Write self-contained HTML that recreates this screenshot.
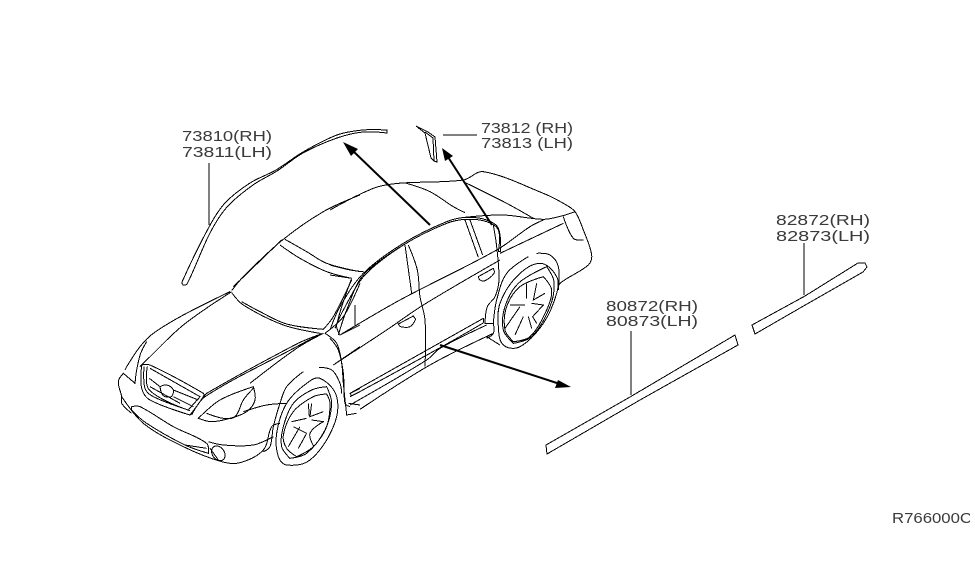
<!DOCTYPE html>
<html><head><meta charset="utf-8"><style>
html,body{margin:0;padding:0;background:#fff}
svg{display:block}
text{font-family:"Liberation Sans",sans-serif;font-size:14.5px;fill:#3a3a3a;stroke:none}
</style></head><body>
<svg width="975" height="566" viewBox="0 0 975 566" xmlns="http://www.w3.org/2000/svg">
<defs><clipPath id="c"><rect x="892" y="513" width="78" height="20"/></clipPath></defs>
<rect width="975" height="566" fill="#fff"/>
<g class="s" fill="none" stroke="#000" stroke-width="1" shape-rendering="crispEdges">
<path d="M182 282L209 227L225 203L250 183L276 170L303 152L337 135L363 130L387 130L387 133L363 132L337 138L303 153L277 171L253 185L227 207L210 233L187 284L183 285Z"/>
</g>
<g fill="none" stroke="#000" stroke-width="1" shape-rendering="crispEdges">
<path d="M416 126L428 132L435 137L437 162L434 161L431 158L425 133Z"/>
<path d="M425 132L433 138L434 161"/>
<path d="M209 163V225M443 135H477M631 331V395M804 243V295"/>
<path d="M546 445L630 397L735 335L738 345L640 400L547 454Z"/>
<path d="M752 325L805 296L858 263L865 263L867 267L863 272L807 304L755 334Z"/>
</g>
<!-- front of car -->
<g class="s" transform="translate(110,170) scale(.33333)" fill="none" stroke="#000" stroke-width="3" shape-rendering="crispEdges">
<path d="M365 362L400 320L515 212L640 125L750 75"/>
<path d="M370 350L515 210"/>
<path d="M525 208L590 245L650 280L750 305"/>
<path d="M510 225L570 265L650 305L725 325"/>
<path d="M365 368L400 405L520 465L630 490"/>
<path d="M395 395L450 425L530 462L640 478"/>
<path d="M640 478L670 440L725 330"/>
<path d="M645 490L700 440L750 340"/>
<path d="M365 365L220 465L110 570L90 590"/>
<path d="M360 365L220 435L130 490L90 530L50 590L45 600"/>
<path d="M110 515L92 550L80 600L75 640L40 610L25 635L35 680L35 700L65 730"/>
<path d="M35 680L100 760L220 830L335 875L390 878L460 840L485 770L510 760"/>
<path d="M65 710L90 710L190 770L290 820L295 850L225 825L110 760L65 720Z"/>
<path d="M225 825L290 835"/>
<path d="M95 585L95 655L120 690L240 735L280 680L280 670L120 585Z"/>
<path d="M102 590L105 655L130 680L235 720L270 680L120 595"/>
<path d="M112 590L118 660L240 722"/>
<path d="M118 625L150 650M120 650L165 675L210 700M190 660L265 690M190 680L250 710"/>
<path d="M150 650L170 645L190 660L185 680L165 680L155 670Z"/>
<path d="M635 490L560 530L285 680L245 735"/>
<path d="M625 495L560 522L290 670L280 685"/>
<path d="M640 490L560 535L420 640"/>
<path d="M645 490L680 520L695 580L700 640L710 735L740 730"/>
<path d="M670 585L750 530"/>
<path d="M265 745L330 690L430 650L435 690L410 725L360 745L305 755Z"/>
<path d="M290 730L340 745L375 740L400 690L430 655"/>
<path d="M400 725L470 705L530 700"/>
<path d="M580 605L530 650L510 700L490 770L480 830L460 845"/>
<path d="M627 592L665 600L690 640L695 670"/>
<path d="M490 800L430 825L340 825L295 815"/>
<path d="M630 625L680 680L670 770L600 870L530 885L505 860L500 790L530 700L590 640Z"/>
<path d="M650 650L665 700L645 780L590 850L540 865L515 830L520 770L550 700L605 660Z"/>
<path d="M650 672L660 700L650 770L610 830L560 860L530 835L520 795L550 725L610 680Z"/>
<path d="M595 700L598 740M605 700L600 740L640 725M605 750L640 755L600 790L612 830M590 790L565 835M570 770L535 830M545 755L590 745M550 770L590 790"/>
<ellipse cx="325" cy="850" rx="18" ry="24" transform="rotate(-35 325 850)"/>
<path d="M300 835L325 870"/>
<path d="M725 325L680 465L690 495L750 465M735 410L735 465"/>
<path d="M720 670L750 655M720 680L750 665M715 700L750 705"/>
</g>
<!-- rear of car -->
<g class="s" transform="translate(330,160) scale(.33333)" fill="none" stroke="#000" stroke-width="3" shape-rendering="crispEdges">
<path d="M0 150L130 85L205 70L400 60L460 35L640 100L700 130L735 155L760 210L785 285L775 315L690 370L685 390"/>
<path d="M230 70L300 95L370 140L405 158"/>
<path d="M400 65L530 130L610 175"/>
<path d="M405 172L520 165L640 178L695 168L735 155"/>
<path d="M30 525L210 420L500 270L600 200L640 180"/>
<path d="M510 280L700 190"/>
<path d="M700 170L730 235L760 240"/>
<path d="M0 510L30 440L100 340L220 250L350 185L410 172L470 180L505 205L512 275L505 275L505 210L470 185L410 178L350 190L222 254L105 345L40 450L15 505"/>
<path d="M25 525L50 450L100 345L220 255"/>
<path d="M0 315L60 330L100 335M0 345L65 355"/>
<path d="M225 255L245 400"/>
<path d="M235 255L262 330L270 410L285 480L285 620"/>
<path d="M405 180L445 292M420 180L458 285"/>
<path d="M75 435L75 500"/>
<path d="M490 195L500 260L507 360L495 410L472 440L465 490L490 490L490 520L470 535"/>
<path d="M10 615L170 510L280 435L510 300"/>
<path d="M205 492L250 468L257 478L240 500L212 500Z"/>
<path d="M445 350L490 325L492 340L465 362L450 360Z"/>
<path d="M60 700L460 475L458 490L65 708Z"/>
<path d="M60 735L290 600L330 565L470 495"/>
<path d="M90 748L300 615L490 520"/>
<path d="M0 535L25 570L40 640L45 730L60 740"/>
<path d="M630 310L680 350L680 400L640 490L570 560L520 555L505 500L510 430L560 350Z"/>
<path d="M620 280L660 285L685 320L685 390"/>
<path d="M595 290L530 340L500 420L490 490"/>
<path d="M510 555L470 530"/>
<path d="M650 320L672 365L660 440L605 530L550 550L520 510L525 440L565 370Z"/>
<path d="M640 350L665 390L650 450L600 530L550 545L525 510L530 440L570 380Z"/>
<path d="M590 370L590 415M620 370L610 420L645 400M605 430L640 435L608 470L620 490M595 470L605 505M580 470L555 525M570 440L525 505M540 435L585 435"/>
</g>
<!-- arrows -->
<g stroke="#000" stroke-width="2" fill="#000">
<line x1="430" y1="225" x2="352" y2="150"/>
<polygon points="343,142 358,149 351,156" stroke="none"/>
<line x1="492" y1="225" x2="448" y2="157"/>
<polygon points="442,148 453,156 445,161" stroke="none"/>
<line x1="440" y1="345" x2="560" y2="384"/>
<polygon points="571,387 555,388 558,380" stroke="none"/>
</g>
<g>
<text x="182" y="141" textLength="90" lengthAdjust="spacingAndGlyphs">73810(RH)</text>
<text x="182" y="157" textLength="90" lengthAdjust="spacingAndGlyphs">73811(LH)</text>
<text x="481" y="133" textLength="92" lengthAdjust="spacingAndGlyphs">73812 (RH)</text>
<text x="481" y="148" textLength="92" lengthAdjust="spacingAndGlyphs">73813 (LH)</text>
<text x="776" y="225" textLength="94" lengthAdjust="spacingAndGlyphs">82872(RH)</text>
<text x="776" y="241" textLength="94" lengthAdjust="spacingAndGlyphs">82873(LH)</text>
<text x="606" y="311" textLength="92" lengthAdjust="spacingAndGlyphs">80872(RH)</text>
<text x="606" y="326" textLength="92" lengthAdjust="spacingAndGlyphs">80873(LH)</text>
<text x="892" y="523" textLength="80" lengthAdjust="spacingAndGlyphs" clip-path="url(#c)">R766000C</text>
</g>
</svg>
<script>
document.querySelectorAll('g.s path').forEach(function(el){
  var out='';
  el.getAttribute('d').split('M').forEach(function(sub){
    if(!sub.trim())return;
    var closed=/Z/.test(sub),n=sub.match(/-?[\d.]+/g).map(Number),p=[];
    for(var i=0;i<n.length;i+=2)p.push([n[i],n[i+1]]);
    var N=p.length;
    if(N<3){out+='M'+sub;return;}
    function g(i){return closed?p[(i+N)%N]:p[Math.max(0,Math.min(N-1,i))];}
    function dir(i){
      var a=g(i-1),b=g(i),c=g(i+1);
      var u=[b[0]-a[0],b[1]-a[1]],v=[c[0]-b[0],c[1]-b[1]];
      var lu=Math.hypot(u[0],u[1]),lv=Math.hypot(v[0],v[1]);
      if(!lu||!lv)return null;
      if((u[0]*v[0]+u[1]*v[1])/(lu*lv)<0.35)return null;
      var d=[c[0]-a[0],c[1]-a[1]],l=Math.hypot(d[0],d[1])||1;
      return [d[0]/l,d[1]/l];
    }
    var s='M'+p[0][0]+' '+p[0][1],m=closed?N:N-1;
    for(var j=0;j<m;j++){
      var a=g(j),b=g(j+1),L=Math.hypot(b[0]-a[0],b[1]-a[1])/3;
      var d1=dir(j),d2=dir(j+1);
      var c1=d1?[a[0]+d1[0]*L,a[1]+d1[1]*L]:a,c2=d2?[b[0]-d2[0]*L,b[1]-d2[1]*L]:b;
      s+='C'+c1[0]+' '+c1[1]+' '+c2[0]+' '+c2[1]+' '+b[0]+' '+b[1];
    }
    out+=s+(closed?'Z':'');
  });
  el.setAttribute('d',out);
});
</script>
</body></html>
